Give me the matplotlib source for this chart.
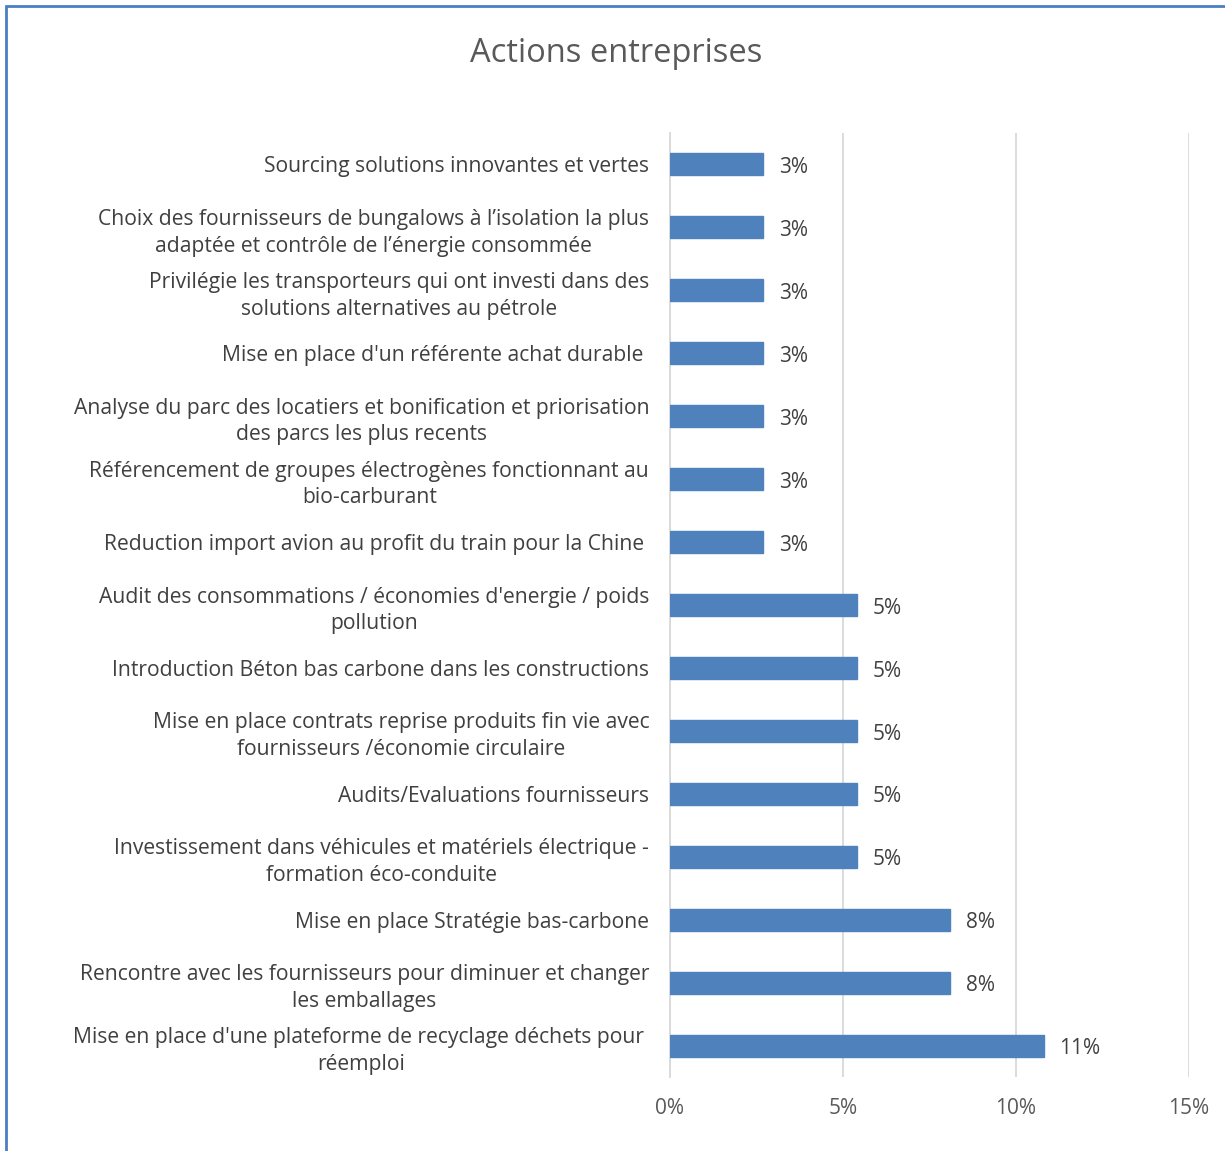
import matplotlib
matplotlib.use("Agg")
import matplotlib.pyplot as plt
from matplotlib.patches import Rectangle
from matplotlib.ticker import FuncFormatter

categories = [
    "Sourcing solutions innovantes et vertes",
    "Choix des fournisseurs de bungalows à l’isolation la plus\nadaptée et contrôle de l’énergie consommée",
    "Privilégie les transporteurs qui ont investi dans des\nsolutions alternatives au pétrole",
    "Mise en place d'un référente achat durable ",
    "Analyse du parc des locatiers et bonification et priorisation\ndes parcs les plus recents",
    "Référencement de groupes électrogènes fonctionnant au\nbio-carburant",
    "Reduction import avion au profit du train pour la Chine ",
    "Audit des consommations / économies d'energie / poids\npollution",
    "Introduction Béton bas carbone dans les constructions",
    "Mise en place contrats reprise produits fin vie avec\nfournisseurs /économie circulaire",
    "Audits/Evaluations fournisseurs",
    "Investissement dans véhicules et matériels électrique -\nformation éco-conduite",
    "Mise en place Stratégie bas-carbone",
    "Rencontre avec les fournisseurs pour diminuer et changer\nles emballages",
    "Mise en place d'une plateforme de recyclage déchets pour \nréemploi",
]
values = [2.7, 2.7, 2.7, 2.7, 2.7, 2.7, 2.7, 5.4, 5.4, 5.4, 5.4, 5.4, 8.1, 8.1, 10.8]
value_labels = ["3%"] * 7 + ["5%"] * 5 + ["8%"] * 2 + ["11%"]
xticks = [0, 5, 10, 15]

plt.rcParams['font.family'] = ['Open Sans', 'DejaVu Sans']
W, H = 1225, 1151
fig = plt.figure(figsize=(W / 100, H / 100), dpi=100)

# border (left and top visible)
fig.add_artist(Rectangle((6 / W, -0.01), 1.5, (H - 6) / H + 0.01, transform=fig.transFigure,
                         fill=False, edgecolor="#4a7fc1", linewidth=2))

ax = fig.add_axes([670 / W, 1 - 1077 / H, (1189 - 670) / W, (1077 - 133) / H])
n = len(categories)
ypos = list(range(n))
ax.barh(ypos, values, height=0.35, color="#4f81bd", edgecolor="#4f81bd", zorder=3)
ax.set_ylim(n - 0.5, -0.5)
ax.set_xlim(0, 15)
ax.set_xticks(xticks)
ax.xaxis.set_major_formatter(FuncFormatter(lambda v, p: f"{int(v)}%"))
ax.set_yticks(ypos)
ax.set_yticklabels(categories, fontsize=15.2, color="#404040", ha="right",
                   multialignment="center", linespacing=1.36)
ax.tick_params(axis="y", length=0, pad=15)
ax.tick_params(axis="x", length=0, pad=15, labelsize=15, labelcolor="#595959")
ax.grid(axis="x", color="#d9d9d9", linewidth=1.3, zorder=0)
for s in ["top", "right", "bottom"]:
    ax.spines[s].set_visible(False)
ax.spines["left"].set_color("#d9d9d9")
ax.spines["left"].set_linewidth(1.3)

for y, v, t in zip(ypos, values, value_labels):
    ax.text(v + 0.45, y + 0.05, t, va="center", ha="left", fontsize=15, color="#404040")

fig.text(616 / W, 1 - 53 / H, "Actions entreprises", ha="center", va="center",
         fontsize=23.5, color="#595959")

fig.savefig("out.png", dpi=100)
